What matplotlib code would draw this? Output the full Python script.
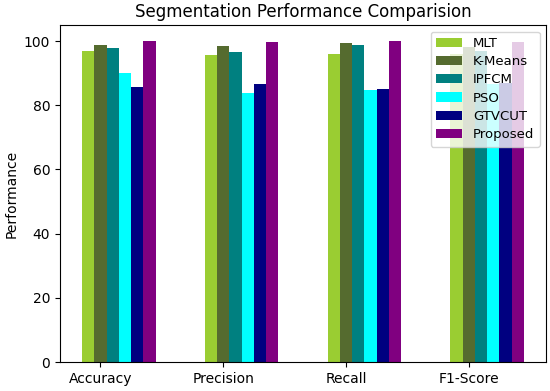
import matplotlib
matplotlib.use("Agg")
import matplotlib.pyplot as plt
import numpy as np

metrics = ["Accuracy", "Precision", "Recall", "F1-Score"]
methods = ["MLT", "K-Means", "IPFCM", "PSO", "GTVCUT", "Proposed"]
colors = ["yellowgreen", "darkolivegreen", "teal", "cyan", "navy", "purple"]

mlt = [97.0, 95.8, 95.9, 96.0]
kmeans = [98.8, 98.6, 99.3, 98.2]
ipfcm = [97.7, 96.6, 98.7, 97.0]
pso = [89.9, 83.9, 84.7, 86.5]
gtvcut = [85.7, 86.6, 85.1, 86.8]
proposed = [100.0, 99.6, 100.0, 99.6]
series = [mlt, kmeans, ipfcm, pso, gtvcut, proposed]

x = np.arange(len(metrics))
width = 0.1

fig, ax = plt.subplots(figsize=(5.5, 3.91), dpi=100)
for i, (name, vals) in enumerate(zip(methods, series)):
    ax.bar(x + (i - 1) * width, vals, width, color=colors[i], label=name)

ax.set_xticks(x)
ax.set_xticklabels(metrics)
ax.set_ylabel("Performance")
ax.set_title("Segmentation Performance Comparision")
ax.legend(loc="upper right", fontsize=9.5, labelspacing=0.4)
fig.subplots_adjust(left=0.109, right=0.993, top=0.936, bottom=0.074)
fig.savefig("out.png", dpi=100)
